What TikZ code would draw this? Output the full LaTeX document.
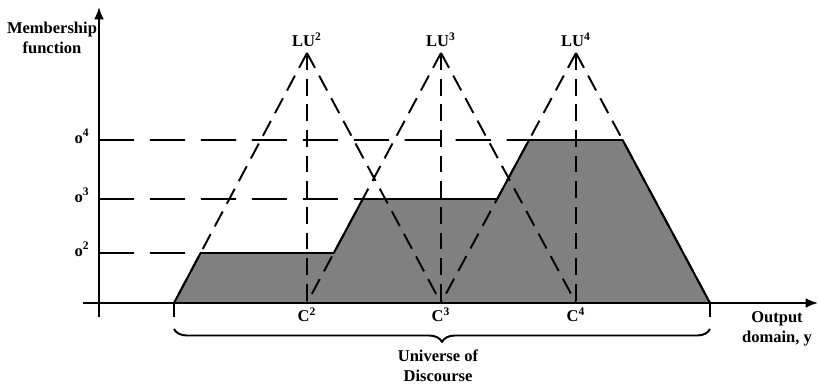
\documentclass[tikz,border=0pt]{standalone}
\usepackage{fontspec}
\setmainfont{Liberation Serif}
\usepackage{tikz}
\usetikzlibrary{arrows.meta,calc,decorations.pathreplacing}
\tikzset{
  lbl/.style={font=\fontsize{9.4}{11.3}\selectfont\bfseries,inner sep=0pt},
  legdash/.style={line width=1.1pt,dash pattern=on 9.6pt off 5pt},
  lvldash/.style={line width=1.1pt,dash pattern=on 20pt off 9pt},
  axisline/.style={line width=1.2pt,-{Latex[length=7pt,width=5.6pt]}}
}

\begin{document}
\begin{tikzpicture}[x=0.02cm,y=0.02cm,line join=round]
\useasboundingbox (-99,-82) rectangle (720,303);
% --- points on the output axis and the peaks
\coordinate (O) at (0,0);
\coordinate (A) at (75,0); \coordinate (B) at (611,0);
\foreach \n/\x in {2/208,3/342,4/477}{
  \coordinate (C\n) at (\x,0);
  \coordinate (LU\n) at (\x,250);
}
% --- clipped consequent sets (aggregated area)
\coordinate (P1) at ($(A)!0.2!(LU2)$);   \coordinate (P2) at ($(C2)!0.2!(LU3)$);
\coordinate (P3) at ($(C2)!0.416!(LU3)$); \coordinate (P4) at ($(C3)!0.416!(LU4)$);
\coordinate (P5) at ($(C3)!0.652!(LU4)$); \coordinate (P6) at ($(B)!0.652!(LU4)$);
\fill[gray] (A) -- (P1) -- (P2) -- (P3) -- (P4) -- (P5) -- (P6) -- (B) -- cycle;
\draw[line width=1.1pt] (A) -- (P1) -- (P2) -- (P3) -- (P4) -- (P5) -- (P6) -- (B);
% --- triangles
\draw[legdash] (LU2) -- (A);  \draw[legdash] (LU2) -- (C2); \draw[legdash] (LU2) -- (C3);
\draw[legdash] (LU3) -- (C2); \draw[legdash] (LU3) -- (C3); \draw[legdash] (LU3) -- (C4);
\draw[legdash] (LU4) -- (C3); \draw[legdash] (LU4) -- (C4); \draw[legdash] (LU4) -- (B);
% --- levels
\foreach \n/\h/\p in {2/50/P1,3/104/P4,4/163/P5}{
  \coordinate (o\n) at (0,\h);
  \draw[lvldash] (o\n) -- (\p);
  \node[lbl,anchor=base east] (ol\n) at ($(o\n)+(-9,-3.5)$) {o\textsuperscript{\n}};
}
% --- axes
\draw[axisline] (0,-14) -- (0,296);
\draw[axisline] (-16,0) -- (719,0);
\node[lbl,align=center] (mf) at (-47,265) {Membership\\function};
\node[lbl,align=center] (od) at (678,-26) {Output\\domain, y};
% --- labels of peaks and centres
\foreach \n in {2,3,4}{
  \node[lbl,anchor=base] (tl\n) at ($(LU\n)+(0,6)$) {LU\textsuperscript{\n}};
  \node[lbl,anchor=base] (cl\n) at ($(C\n)+(0,-19)$) {C\textsuperscript{\n}};
}
% --- universe of discourse
\draw[line width=1.1pt] (A) -- (75,-14); \draw[line width=1.1pt] (B) -- (611,-14);
\draw[line width=1.1pt,decorate,decoration={brace,mirror,amplitude=7.4pt}] (75,-26) -- (611,-26);
\node[lbl,align=center] (ud) at (339,-63) {Universe of\\Discourse};
\end{tikzpicture}
\end{document}
